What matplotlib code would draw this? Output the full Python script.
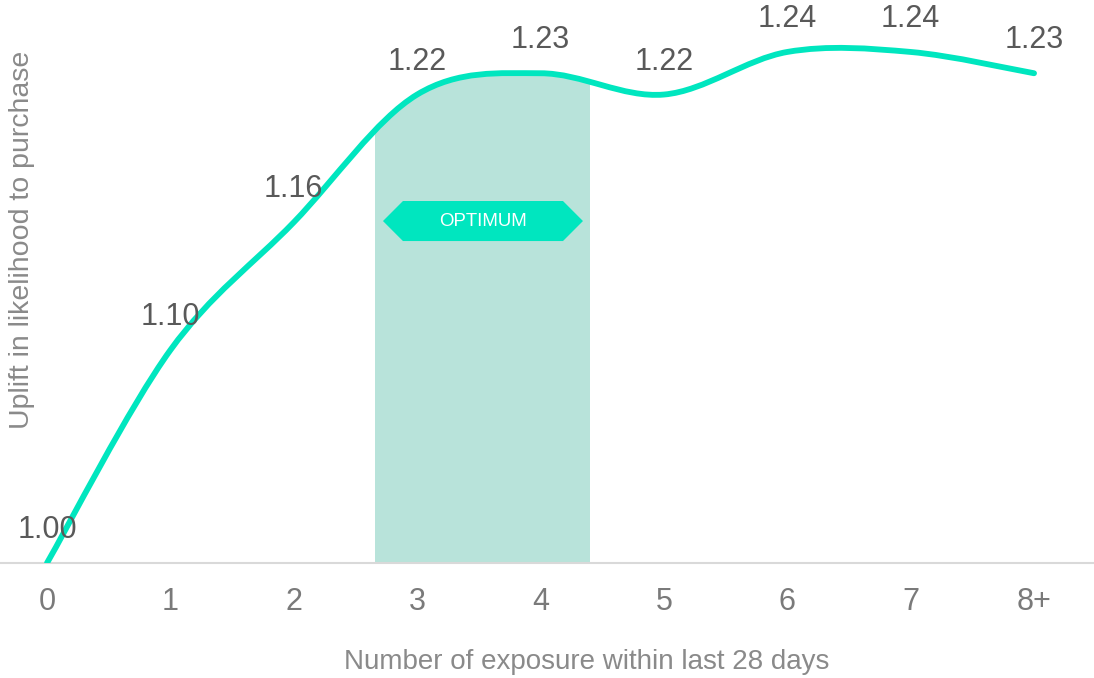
import matplotlib
matplotlib.use("Agg")
import matplotlib.pyplot as plt
from matplotlib.path import Path
from matplotlib.patches import PathPatch, Polygon
import numpy as np

plt.rcParams["font.family"] = ["Liberation Sans", "DejaVu Sans"]

# exposure buckets and uplift in likelihood to purchase
exposures = ["0", "1", "2", "3", "4", "5", "6", "7", "8+"]
uplift = [1.00, 1.10, 1.16, 1.22, 1.23, 1.22, 1.24, 1.24, 1.23]
optimum_range = (2.66, 4.40)

LINE = "#00e6bf"
SHADE = "#b8e3da"

x = np.arange(len(uplift), dtype=float)
y = np.array(uplift)

fig = plt.figure(figsize=(10.94, 6.78), dpi=100)
ax = fig.add_axes([0, 0.1696, 1, 0.8304])
ax.set_xlim(-0.381, 8.486)
ax.set_ylim(1.0, 1.2644)

# smooth line through the points (Catmull-Rom as cubic Bezier segments)
pts = np.column_stack([x, y])
ext = np.vstack([pts[0], pts, pts[-1]])
verts = [pts[0]]
codes = [Path.MOVETO]
for i in range(len(pts) - 1):
    p0, p1, p2, p3 = ext[i], ext[i + 1], ext[i + 2], ext[i + 3]
    verts += [p1 + (p2 - p0) / 6, p2 - (p3 - p1) / 6, p2]
    codes += [Path.CURVE4] * 3
curve = Path(verts, codes)

# area under the curve, used to clip the optimum band
area_verts = verts + [(x[-1], 1.0), (x[0], 1.0), (x[0], y[0])]
area_codes = codes + [Path.LINETO, Path.LINETO, Path.CLOSEPOLY]
area = PathPatch(Path(area_verts, area_codes), facecolor="none",
                 edgecolor="none", transform=ax.transData)
ax.add_patch(area)
band = ax.axvspan(*optimum_range, color=SHADE, lw=0, zorder=1)
band.set_clip_path(area)

ax.add_patch(PathPatch(curve, facecolor="none", edgecolor=LINE, lw=4.2,
                       capstyle="round", zorder=3))

# OPTIMUM badge
bx0, bx1, tip = 2.723, 4.344, 0.162
by0, by1 = 1.1512, 1.1700
bym = (by0 + by1) / 2
badge = Polygon([(bx0, bym), (bx0 + tip, by1), (bx1 - tip, by1), (bx1, bym),
                 (bx1 - tip, by0), (bx0 + tip, by0)], closed=True,
                facecolor=LINE, edgecolor="none", zorder=4)
ax.add_patch(badge)
ax.text((bx0 + bx1) / 2, bym, "OPTIMUM", color="white", fontsize=13.4,
        ha="center", va="center", zorder=5)

for xi, yi in zip(x, y):
    ax.annotate(f"{yi:.2f}", (xi, yi), xytext=(0, 33), textcoords="offset pixels",
                ha="center", va="center", fontsize=22, color="#595959",
                annotation_clip=False, zorder=5)

ax.set_xticks(x)
ax.set_xticklabels(exposures)
ax.tick_params(axis="x", length=0, pad=17, labelsize=22, labelcolor="#7a7a7a")
ax.set_yticks([])
for side in ["top", "left", "right"]:
    ax.spines[side].set_visible(False)
ax.spines["bottom"].set_color("#d9d9d9")
ax.spines["bottom"].set_linewidth(1.5)

fig.text(587 / 1094, 1 - 662 / 678, "Number of exposure within last 28 days",
         ha="center", va="center", fontsize=20, color="#8a8a8a")
fig.text(22 / 1094, 1 - 240 / 678, "Uplift in likelihood to purchase",
         ha="center", va="center", rotation=90, fontsize=20.5, color="#8a8a8a")

fig.savefig("out.png", dpi=100)
